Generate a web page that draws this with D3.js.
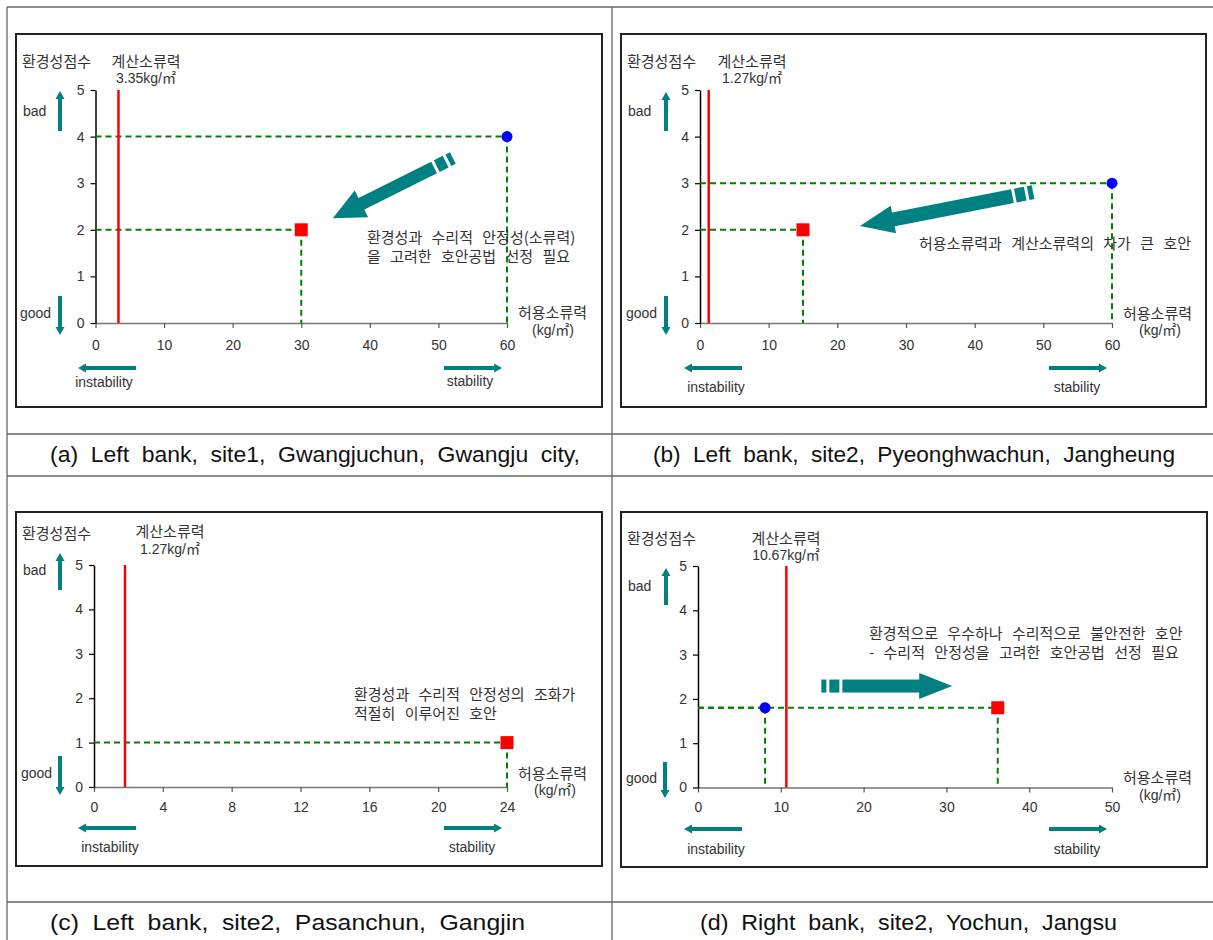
<!DOCTYPE html>
<html><head><meta charset="utf-8">
<script src="https://cdn.jsdelivr.net/npm/d3@7/dist/d3.min.js"></script>
<style>body{margin:0;background:#fff}svg{display:block}</style>
</head><body>
<svg id="chart" width="1213" height="940"></svg>
<script>
// ---------------- DATA ----------------
const captions = [
  "(a) Left bank, site1, Gwangjuchun, Gwangju city,",
  "(b) Left bank, site2, Pyeonghwachun, Jangheung",
  "(c) Left bank, site2, Pasanchun, Gangjin",
  "(d) Right bank, site2, Yochun, Jangsu"
];
const xDomains = [[0, 60], [0, 60], [0, 24], [0, 50]];
const xTickValues = [
  [0, 10, 20, 30, 40, 50, 60],
  [0, 10, 20, 30, 40, 50, 60],
  [0, 4, 8, 12, 16, 20, 24],
  [0, 10, 20, 30, 40, 50]
];
const yDomain = [0, 5];
const yTickValues = [0, 1, 2, 3, 4, 5];
const calcForce = [3.35, 1.27, 1.8, 10.67];           // position of red line
const calcForceLabels = ["3.35kg/㎡", "1.27kg/㎡", "1.27kg/㎡", "10.67kg/㎡"];
const currentPoints = [[60, 4], [60, 3], null, [8.1, 1.8]];   // blue circles
const targetPoints = [[30, 2], [15, 2], [24, 1], [36.2, 1.8]]; // red squares
const notes = [
  ["환경성과 수리적 안정성(소류력)", "을 고려한 호안공법 선정 필요"],
  ["허용소류력과 계산소류력의 차가 큰 호안"],
  ["환경성과 수리적 안정성의 조화가", "적절히 이루어진 호안"],
  ["환경적으로 우수하나 수리적으로 불안전한 호안", "- 수리적 안정성을 고려한 호안공법 선정 필요"]
];
const arrowFrom = [[52.1, 3.54], [48.5, 2.81], null, [14.9, 2.29]];
const arrowTo = [[34.6, 2.25], [23.3, 2.08], null, [30.7, 2.29]];
const yTitle = "환경성점수";
const calcTitle = "계산소류력";
const xTitle = "허용소류력";
const xUnit = "(kg/㎡)";

// ---------------- LAYOUT ----------------
const layout = [
  {box:[16,34,602,407], x0:95.5, x1:507, yT:90, yB:323, pad:12,
   score:[22,60], calc:[146,60,78], bad:[23,111,60,131,91], good:[20,313,60,296,335],
   instab:[136,78,368,104,382], stab:[444,502,368,470,381], allow:[518,311,553,330],
   note:[367,235.5,19], caption:[50,454,530], arrow:{w:13,hw:15,hl:32}},
  {box:[621,34,1206,407], x0:700, x1:1112, yT:90, yB:323, pad:12,
   score:[627,60], calc:[752,60,78], bad:[628,111,666,131,92], good:[626,313,666,296,335],
   instab:[742,684,368,716,387], stab:[1049,1107,368,1077,387], allow:[1123,312,1160,330],
   note:[919,242,19], caption:[653,454,522], arrow:{w:14,hw:14,hl:34}},
  {box:[16,512,602,866], x0:94, x1:507, yT:565, yB:787, pad:10,
   score:[22,532], calc:[170,530,549], bad:[23,570,60,590,553], good:[21,773,60,756,795],
   instab:[136,78,828,110,847], stab:[444,502,828,472,847], allow:[518,772,555,790],
   note:[354,693,19], caption:[50,922,475], arrow:null},
  {box:[621,512,1207,867], x0:698, x1:1112, yT:566, yB:787.5, pad:10,
   score:[627,537], calc:[786,537,555], bad:[628,586,666,605,568], good:[626,778,665,762,798],
   instab:[742,684,829,716,849], stab:[1049,1107,829,1077,849], allow:[1123,776,1160,795],
   note:[869,632,19], caption:[700,922,417], arrow:{w:13,hw:13,hl:33}}
];

const TEAL = "#008080", GREEN = "#008000", TXT = "#333";
const LAT = "'Liberation Sans', Arial, 'Noto Sans CJK KR', sans-serif";
const KR = "'Noto Sans CJK KR', 'Noto Sans', sans-serif";

const svg = d3.select("#chart");

// outer table lines
const grid = svg.append("g").attr("stroke", "#666").attr("stroke-width", 1.3);
[[7,7,1213,7],[7,434,1213,434],[7,476,1213,476],[7,902,1213,902],[7,7,7,940],[612,7,612,940]]
  .forEach(l => grid.append("line").attr("x1",l[0]).attr("y1",l[1]).attr("x2",l[2]).attr("y2",l[3]));

function smallArrow(g, x1, y1, x2, y2) {
  const dx = x2 - x1, dy = y2 - y1, L = Math.hypot(dx, dy), ang = Math.atan2(dy, dx) * 180 / Math.PI;
  const a = g.append("g").attr("transform", `translate(${x1},${y1}) rotate(${ang})`).attr("fill", TEAL);
  a.append("rect").attr("x", 0).attr("y", -2).attr("width", L - 7).attr("height", 4);
  a.append("path").attr("d", `M${L-8},-4.5 L${L},0 L${L-8},4.5 Z`);
}
function bigArrow(g, p0, p1, o) {
  const dx = p1[0] - p0[0], dy = p1[1] - p0[1], L = Math.hypot(dx, dy), ang = Math.atan2(dy, dx) * 180 / Math.PI;
  const a = g.append("g").attr("transform", `translate(${p0[0]},${p0[1]}) rotate(${ang})`).attr("fill", TEAL);
  a.append("rect").attr("x", 0).attr("y", -o.w/2).attr("width", 5).attr("height", o.w);
  a.append("rect").attr("x", 8).attr("y", -o.w/2).attr("width", 10).attr("height", o.w);
  a.append("rect").attr("x", 21).attr("y", -o.w/2).attr("width", L - o.hl - 20).attr("height", o.w);
  a.append("path").attr("d", `M${L-o.hl},${-o.hw} L${L},0 L${L-o.hl},${o.hw} Z`);
}

layout.forEach((lay, i) => {
  const g = svg.append("g");
  const [bx0, by0, bx1, by1] = lay.box;
  g.append("rect").attr("x", bx0).attr("y", by0).attr("width", bx1 - bx0).attr("height", by1 - by0)
    .attr("fill", "none").attr("stroke", "#222").attr("stroke-width", 2);

  const x = d3.scaleLinear().domain(xDomains[i]).range([lay.x0, lay.x1]);
  const y = d3.scaleLinear().domain(yDomain).range([lay.yB, lay.yT]);

  // axes
  const xa = g.append("g").attr("transform", `translate(0,${lay.yB})`)
    .call(d3.axisBottom(x).tickValues(xTickValues[i]).tickFormat(d3.format("d"))
      .tickSize(5).tickPadding(lay.pad).tickSizeOuter(0));
  xa.select(".domain").attr("stroke", "#777").attr("stroke-width", 1.6);
  xa.selectAll(".tick line").attr("stroke", "#555").attr("stroke-width", 1.2);
  xa.selectAll(".tick text").attr("fill", TXT).style("font-family", LAT).style("font-size", "14px");

  const ya = g.append("g").attr("transform", `translate(${lay.x0},0)`)
    .call(d3.axisLeft(y).tickValues(yTickValues).tickFormat(d3.format("d"))
      .tickSize(5).tickPadding(6).tickSizeOuter(0));
  ya.select(".domain").attr("stroke", "#000").attr("stroke-width", 1.5);
  ya.selectAll(".tick line").attr("stroke", "#000").attr("stroke-width", 1.2);
  ya.selectAll(".tick text").attr("fill", TXT).style("font-family", LAT).style("font-size", "14px");

  // dashed guides
  const guides = [currentPoints[i], targetPoints[i]].filter(p => p);
  guides.forEach(p => {
    g.append("line").attr("x1", x(0)).attr("x2", x(p[0])).attr("y1", y(p[1])).attr("y2", y(p[1]))
      .attr("stroke", GREEN).attr("stroke-width", 2).attr("stroke-dasharray", "6,4");
    g.append("line").attr("x1", x(p[0])).attr("x2", x(p[0])).attr("y1", y(p[1])).attr("y2", y(0))
      .attr("stroke", GREEN).attr("stroke-width", 2).attr("stroke-dasharray", "6,4");
  });

  // red calc line
  g.append("line").attr("x1", x(calcForce[i])).attr("x2", x(calcForce[i]))
    .attr("y1", y(5)).attr("y2", y(0)).attr("stroke", "#ff0000").attr("stroke-width", 2.5);

  // points
  if (currentPoints[i]) g.append("circle").attr("cx", x(currentPoints[i][0])).attr("cy", y(currentPoints[i][1]))
    .attr("r", 5.5).attr("fill", "#0000ff");
  const tp = targetPoints[i];
  g.append("rect").attr("x", x(tp[0]) - 6.5).attr("y", y(tp[1]) - 6.5).attr("width", 13).attr("height", 13)
    .attr("fill", "#ff0000");

  // big arrow
  if (arrowFrom[i]) bigArrow(g, [x(arrowFrom[i][0]), y(arrowFrom[i][1])], [x(arrowTo[i][0]), y(arrowTo[i][1])], lay.arrow);

  // texts
  const t = (tx, ty, s, fam, size, anchor) => g.append("text").attr("x", tx).attr("y", ty)
    .attr("dominant-baseline", "central").attr("text-anchor", anchor || "start")
    .attr("fill", TXT).style("font-family", fam).style("font-size", size + "px").text(s);

  t(lay.score[0], lay.score[1], yTitle, KR, 15);
  t(lay.calc[0], lay.calc[1], calcTitle, KR, 15, "middle");
  t(lay.calc[0], lay.calc[2], calcForceLabels[i], LAT, 14, "middle");
  t(lay.bad[0], lay.bad[1], "bad", LAT, 14);
  smallArrow(g, lay.bad[2], lay.bad[3], lay.bad[2], lay.bad[4]);
  t(lay.good[0], lay.good[1], "good", LAT, 14);
  smallArrow(g, lay.good[2], lay.good[3], lay.good[2], lay.good[4]);
  smallArrow(g, lay.instab[0], lay.instab[2], lay.instab[1], lay.instab[2]);
  t(lay.instab[3], lay.instab[4], "instability", LAT, 14, "middle");
  smallArrow(g, lay.stab[0], lay.stab[2], lay.stab[1], lay.stab[2]);
  t(lay.stab[3], lay.stab[4], "stability", LAT, 14, "middle");
  t(lay.allow[0], lay.allow[1], xTitle, KR, 15);
  t(lay.allow[2], lay.allow[3], xUnit, LAT, 14, "middle");

  // multi-line note as one text element
  const nt = g.append("text").attr("fill", TXT).attr("dominant-baseline", "central")
    .style("font-family", KR).style("font-size", "15px").style("word-spacing", "6px");
  nt.selectAll("tspan").data(notes[i]).join("tspan")
    .attr("x", lay.note[0]).attr("y", (d, k) => lay.note[1] + k * lay.note[2]).text(d => d);

  // caption
  svg.append("text").attr("x", lay.caption[0]).attr("y", lay.caption[1])
    .attr("dominant-baseline", "central").attr("fill", "#111")
    .attr("textLength", lay.caption[2]).attr("lengthAdjust", "spacingAndGlyphs")
    .style("font-family", LAT).style("font-size", "22px").style("word-spacing", "6px")
    .text(captions[i]);
});
</script>
</body></html>
